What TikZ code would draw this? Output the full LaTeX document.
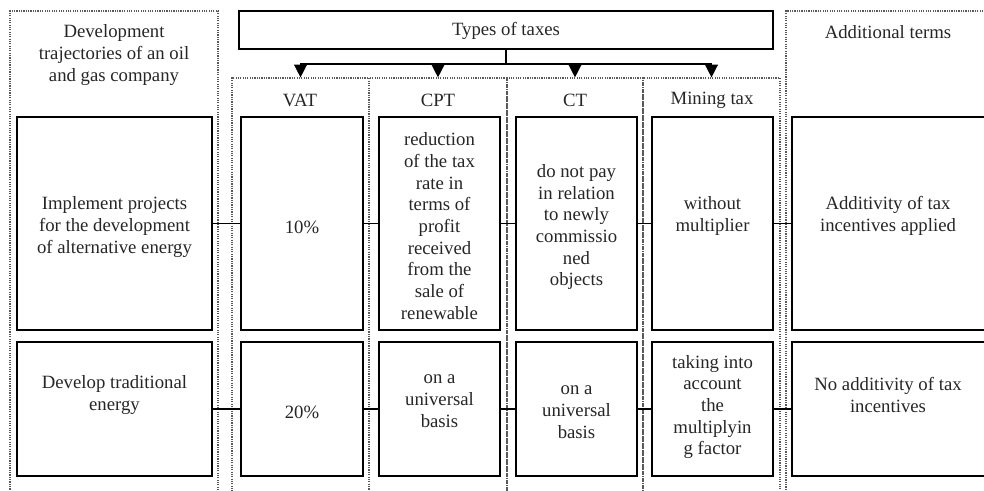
\documentclass[tikz,border=0pt]{standalone}
\usepackage{fontspec}
\setmainfont{Liberation Serif}
\usetikzlibrary{positioning}
\usetikzlibrary{fit}
\usetikzlibrary{arrows.meta}
\tikzset{
	every node/.style = {font=\fontsize{16}{18.5}\selectfont, text=black!85},
	cell/.style = {draw, line width=1.6pt, inner sep=0pt},
	frame/.style = {draw=black!65, densely dotted, line width=1pt, inner sep=0pt},
	txt/.style = {align=center, inner sep=0pt},
	link/.style = {line width=1.2pt},
	arr/.style = {line width=1.2pt, -{Triangle[width=11pt,length=11pt]}}
}

\begin{document}
\begin{tikzpicture}[x=0.03cm, y=-0.03cm]
		\clip (0,0) rectangle (984,490);
		% dotted frames
		\node[frame, fit={(10,11) (218,500)}] (fTraj) {};
		\node[frame, fit={(232,78) (369,500)}] (fVat) {};
		\node[frame, fit={(369,78) (507,500)}] (fCpt) {};
		\node[frame, fit={(507,78) (643,500)}] (fCt) {};
		\node[frame, fit={(643,78) (780,500)}] (fMin) {};
		\node[frame, fit={(786,11) (995,500)}] (fAdd) {};
		
		% headers
		\node[cell, fit={(239,11) (773,49)}] (types) {};
		\node[txt] (types-t) at (506,31) {Types of taxes};
		\node[txt] (traj-h) at (114,55) {Development\\trajectories of an oil\\and gas company};
		\node[txt] (add-h) at (888,32) {Additional terms};
		\node[txt] (vat-h) at (300,100) {VAT};
		\node[txt] (cpt-h) at (438,100) {CPT};
		\node[txt] (ct-h) at (575,100) {CT};
		\node[txt] (min-h) at (712,100) {Mining tax};
		
		% arrows to the taxes
		\coordinate (bus) at (506,64);
		\draw[link] (types) -- (bus);
		\draw[arr] (bus) -| (fVat.north);
		\draw[arr] (bus) -| (fCpt.north);
		\draw[arr] (bus) -| (fCt.north);
		\draw[arr] (bus) -| (fMin.north);
		
		% row 1
		\node[cell, fit={(17,117) (212,330)}] (trajA) {};
		\node[cell, fit={(241,117) (363,330)}] (vatA) {};
		\node[cell, fit={(379,117) (500,330)}] (cptA) {};
		\node[cell, fit={(516,117) (637,330)}] (ctA) {};
		\node[cell, fit={(652,117) (773,330)}] (minA) {};
		\node[cell, fit={(792,117) (995,330)}] (addA) {};
		\node[txt] (trajA-t) at (114.5,227) {Implement projects\\for the development\\of alternative energy};
		\node[txt] (vatA-t) at (302,227) {10\%};
		\node[txt] (cptA-t) at (439.5,226) {reduction\\of the tax\\rate in\\terms of\\profit\\received\\from the\\sale of\\renewable};
		\node[txt] (ctA-t) at (576.5,227) {do not pay\\in relation\\to newly\\commissio\\ned\\objects};
		\node[txt] (minA-t) at (712.5,216) {without\\multiplier};
		\node[txt] (addA-t) at (888,216) {Additivity of tax\\incentives applied};
		\draw[link] (trajA) -- (vatA);
		\draw[link] (vatA) -- (cptA);
		\draw[link] (cptA) -- (ctA);
		\draw[link] (ctA) -- (minA);
		\draw[link] (minA) -- (addA);
		
		% row 2
		\node[cell, fit={(17,342) (212,476)}] (trajB) {};
		\node[cell, fit={(241,342) (363,476)}] (vatB) {};
		\node[cell, fit={(379,342) (500,476)}] (cptB) {};
		\node[cell, fit={(516,342) (637,476)}] (ctB) {};
		\node[cell, fit={(652,342) (773,476)}] (minB) {};
		\node[cell, fit={(792,342) (995,476)}] (addB) {};
		\node[txt] (trajB-t) at (114.5,395) {Develop traditional\\energy};
		\node[txt] (vatB-t) at (302,412) {20\%};
		\node[txt] (cptB-t) at (439.5,401) {on a\\universal\\basis};
		\node[txt] (ctB-t) at (576.5,412) {on a\\universal\\basis};
		\node[txt] (minB-t) at (712.5,407) {taking into\\account\\the\\multiplyin\\g factor};
		\node[txt] (addB-t) at (888,395) {No additivity of tax\\incentives};
		\draw[link] (trajB) -- (vatB);
		\draw[link] (vatB) -- (cptB);
		\draw[link] (cptB) -- (ctB);
		\draw[link] (ctB) -- (minB);
		\draw[link] (minB) -- (addB);
	\end{tikzpicture}
\end{document}
